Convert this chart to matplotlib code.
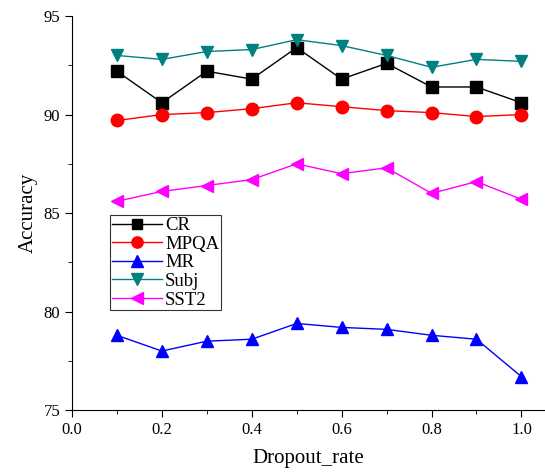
import numpy as np
import matplotlib.pyplot as plt
from matplotlib.ticker import MultipleLocator

plt.rcParams['font.family'] = ['Liberation Serif', 'DejaVu Serif']

dropout = [0.1, 0.2, 0.3, 0.4, 0.5, 0.6, 0.7, 0.8, 0.9, 1.0]
cr = [92.2, 90.6, 92.2, 91.8, 93.4, 91.8, 92.6, 91.4, 91.4, 90.6]
mpqa = [89.7, 90.0, 90.1, 90.3, 90.6, 90.4, 90.2, 90.1, 89.9, 90.0]
mr = [78.8, 78.0, 78.5, 78.6, 79.4, 79.2, 79.1, 78.8, 78.6, 76.7]
subj = [93.0, 92.8, 93.2, 93.3, 93.8, 93.5, 93.0, 92.4, 92.8, 92.7]
sst2 = [85.6, 86.1, 86.4, 86.7, 87.5, 87.0, 87.3, 86.0, 86.6, 85.7]

fig = plt.figure(figsize=(5.45, 4.72), dpi=100)
ax = fig.add_axes([0.132, 0.131, 0.866, 0.835])

ms = 8
ax.plot(dropout, cr, '-s', color='black', lw=1.0, ms=ms, label='CR')
ax.plot(dropout, mpqa, '-o', color='red', lw=1.0, ms=ms + 1, label='MPQA')
ax.plot(dropout, mr, '-^', color='blue', lw=1.0, ms=ms + 1, label='MR')
ax.plot(dropout, subj, '-v', color='#008080', lw=1.0, ms=ms + 1, label='Subj')
ax.plot(dropout, sst2, '-<', color='magenta', lw=1.0, ms=ms + 1, label='SST2')

ax.set_xlim(0, 1.05)
ax.set_ylim(75, 95)
ax.xaxis.set_major_locator(MultipleLocator(0.2))
ax.xaxis.set_minor_locator(MultipleLocator(0.1))
ax.yaxis.set_major_locator(MultipleLocator(5))
ax.yaxis.set_minor_locator(MultipleLocator(2.5))
ax.xaxis.set_major_formatter(plt.FormatStrFormatter('%.1f'))
ax.tick_params(which='major', direction='out', length=5, labelsize=12)
ax.tick_params(which='minor', direction='out', length=3)

ax.spines['top'].set_visible(False)
ax.spines['right'].set_visible(False)

ax.set_xlabel('Dropout_rate', fontsize=15, labelpad=8)
ax.set_ylabel('Accuracy', fontsize=15)

leg = ax.legend(loc='upper left', bbox_to_anchor=(0.08, 0.495), fontsize=13.5,
                frameon=True, fancybox=False, edgecolor='black', borderpad=0.1,
                labelspacing=0.08, handlelength=2.7, handletextpad=0.15,
                borderaxespad=0, markerscale=0.9)
leg.get_frame().set_linewidth(0.8)

fig.savefig('out.png', dpi=100)
